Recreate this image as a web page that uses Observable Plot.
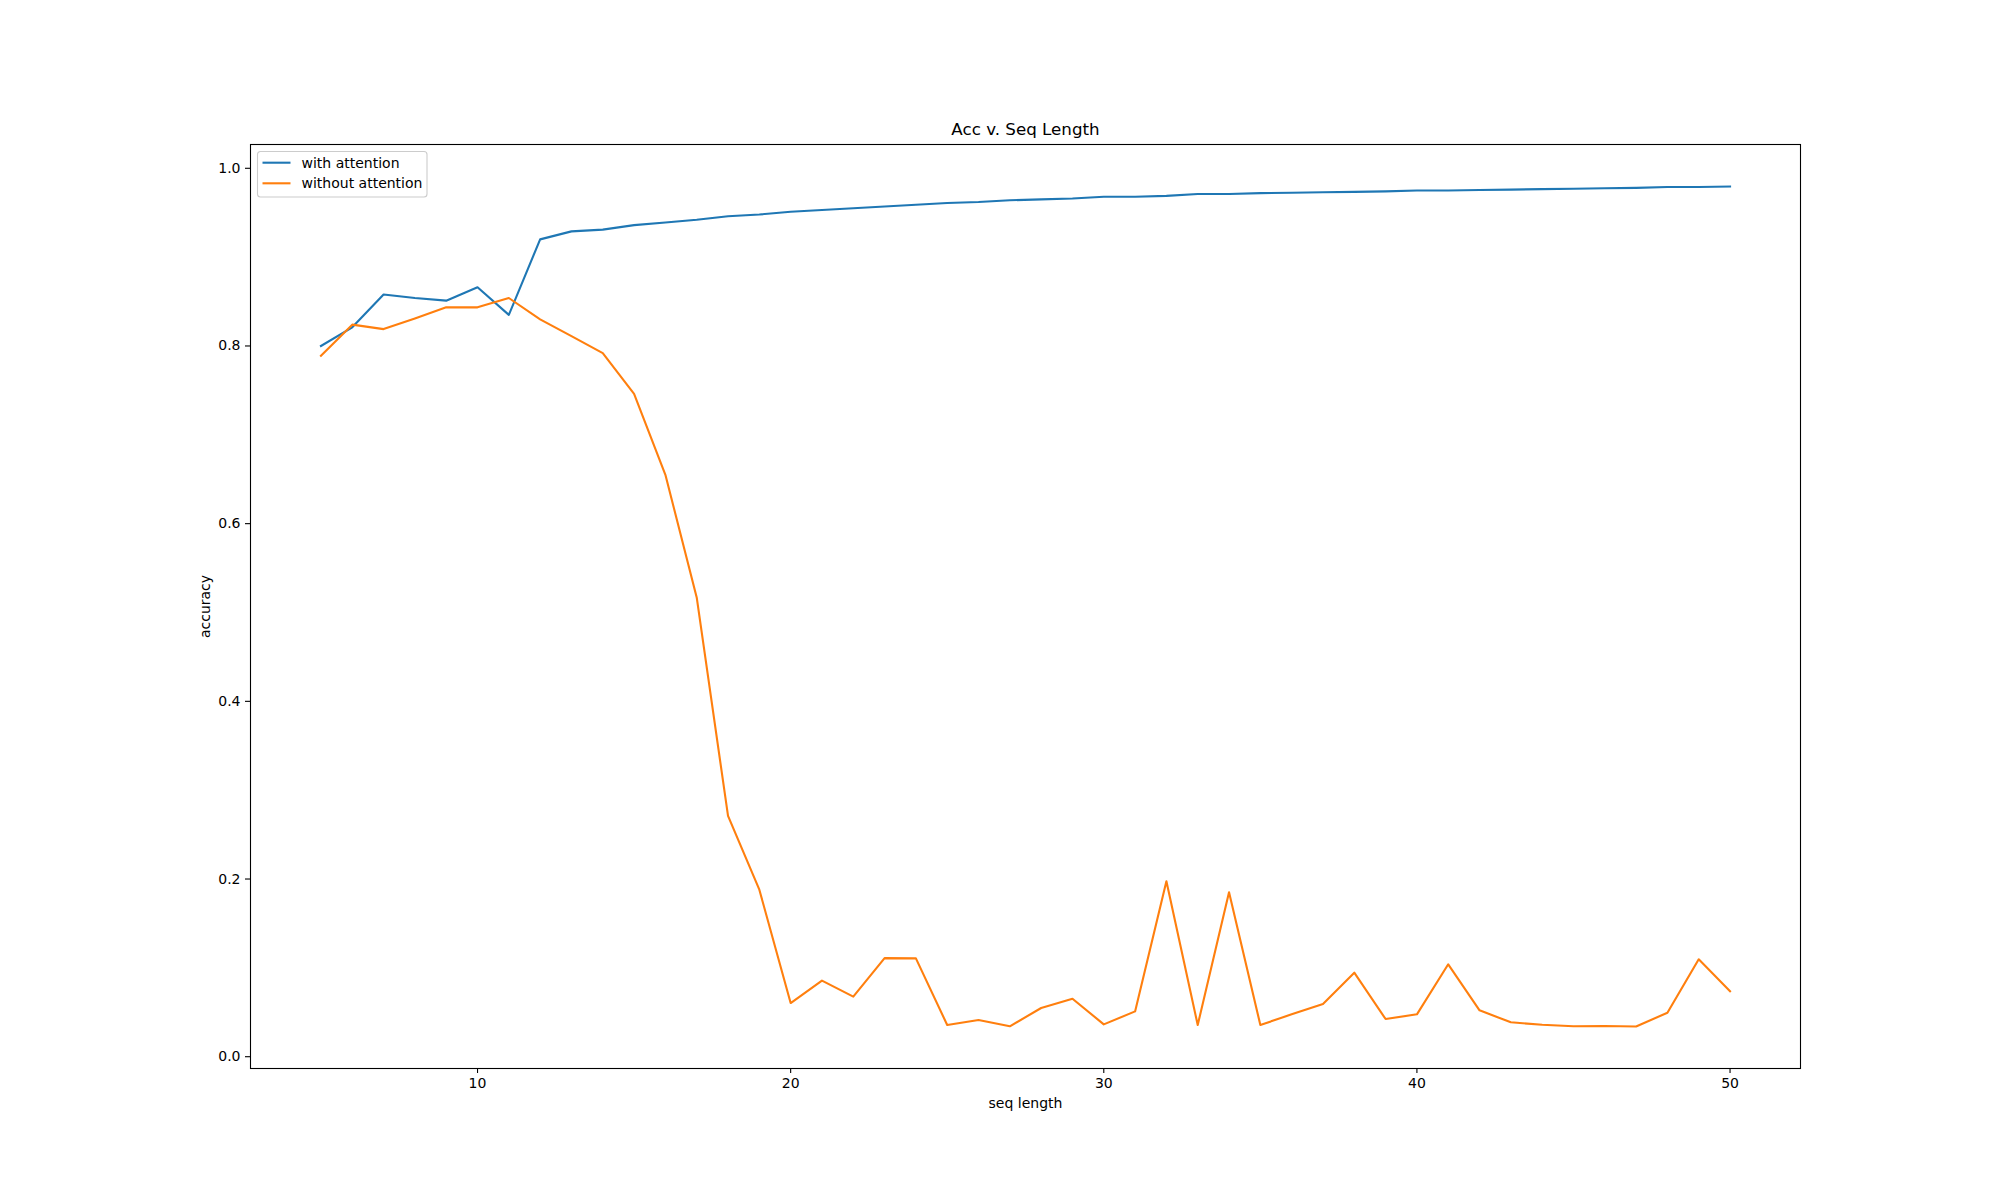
<!DOCTYPE html>
<html>
<head>
<meta charset="utf-8">
<script src="https://cdn.jsdelivr.net/npm/d3@7"></script>
<script src="https://cdn.jsdelivr.net/npm/@observablehq/plot@0.6"></script>
<style>
  html, body { margin: 0; padding: 0; background: white; }
  #chart { width: 2000px; height: 1200px; }
</style>
</head>
<body>
<div id="chart"></div>
<script>
const seqLength = [5,6,7,8,9,10,11,12,13,14,15,16,17,18,19,20,21,22,23,24,25,26,27,28,29,30,31,32,33,34,35,36,37,38,39,40,41,42,43,44,45,46,47,48,49,50];

const withAttention = [0.800,0.821,0.858,0.854,0.851,0.866,0.835,0.920,0.929,0.931,0.936,0.939,0.942,0.946,0.948,
  0.951,0.953,0.955,0.957,0.959,0.961,0.962,0.964,0.965,0.966,0.968,0.968,0.969,0.971,0.971,
  0.972,0.9725,0.973,0.9735,0.974,0.975,0.975,0.9755,0.976,0.9765,0.977,0.9775,0.978,0.979,0.979,0.9795];

const withoutAttention = [0.789,0.824,0.819,0.831,0.8435,0.8435,0.854,0.830,0.811,0.792,0.746,0.655,0.517,0.271,0.188,
  0.0604,0.0856,0.0676,0.111,0.1107,0.0357,0.0413,0.0342,0.0548,0.0653,0.0364,0.051,0.1975,0.0357,0.185,
  0.0357,0.0477,0.0593,0.0946,0.0424,0.0477,0.104,0.0522,0.0387,0.036,0.0342,0.0345,0.034,0.0495,0.1096,0.0736];

const seriesNames = ["with attention", "without attention"];
const seriesColors = ["#1f77b4", "#ff7f0e"];
const xTicks = [10, 20, 30, 40, 50];
const yTicks = [0.0, 0.2, 0.4, 0.6, 0.8, 1.0];
const titleText = "Acc v. Seq Length";
const xLabel = "seq length";
const yLabel = "accuracy";

const rows = [];
seqLength.forEach((s, i) => {
  rows.push({x: s, y: withAttention[i], series: seriesNames[0]});
  rows.push({x: s, y: withoutAttention[i], series: seriesNames[1]});
});

// matplotlib-like 5% data margins
const xExt = d3.extent(seqLength);
const yExt = d3.extent(rows, d => d.y);
const xPad = (xExt[1] - xExt[0]) * 0.05;
const yPad = (yExt[1] - yExt[0]) * 0.05;

const FONT = "DejaVu Sans, sans-serif";

const plot = Plot.plot({
  width: 2000,
  height: 1200,
  marginLeft: 250,
  marginRight: 200,
  marginTop: 144,
  marginBottom: 132,
  style: {fontFamily: FONT, fontSize: "14px", color: "black", background: "white", overflow: "visible"},
  x: {domain: [xExt[0] - xPad, xExt[1] + xPad]},
  y: {domain: [yExt[0] - yPad, yExt[1] + yPad]},
  color: {domain: seriesNames, range: seriesColors},
  marks: [
    Plot.line(rows, {x: "x", y: "y", z: "series", stroke: "series", strokeWidth: 2.1, strokeLinejoin: "round", strokeLinecap: "square"}),
    Plot.frame({stroke: "black", strokeWidth: 1.1}),
    Plot.axisX({ticks: xTicks, tickSize: 5, tickPadding: 5, tickFormat: d3.format("d"), label: null, fontSize: 14, strokeWidth: 1.1}),
    Plot.axisY({ticks: yTicks, tickSize: 5, tickPadding: 5, tickFormat: d3.format(".1f"), label: null, fontSize: 14, strokeWidth: 1.1}),
    Plot.text([titleText], {frameAnchor: "top", lineAnchor: "middle", textAnchor: "middle", dy: -15, fontSize: 16.7, fill: "black"}),
    Plot.text([xLabel], {frameAnchor: "bottom", lineAnchor: "middle", textAnchor: "middle", dy: 35, fontSize: 14, fill: "black"}),
    Plot.text([yLabel], {frameAnchor: "left", lineAnchor: "middle", textAnchor: "middle", dx: -45, rotate: -90, fontSize: 14, fill: "black"})
  ]
});

document.getElementById("chart").appendChild(plot);

// legend (matplotlib style, upper left inside axes)
const svg = d3.select(plot);
const lg = svg.append("g").attr("transform", "translate(257.5,151.5)");
lg.append("rect")
  .attr("width", 169.5).attr("height", 45.5)
  .attr("rx", 3).attr("ry", 3)
  .attr("fill", "white").attr("fill-opacity", 0.8)
  .attr("stroke", "#cccccc").attr("stroke-width", 1.1);
seriesNames.forEach((name, i) => {
  const y = 11.2 + i * 20.6;
  lg.append("line")
    .attr("x1", 5).attr("x2", 33).attr("y1", y).attr("y2", y)
    .attr("stroke", seriesColors[i]).attr("stroke-width", 2.1);
  lg.append("text")
    .attr("x", 44).attr("y", y).attr("dy", "0.35em")
    .attr("text-anchor", "start")
    .attr("font-family", FONT).attr("font-size", 14).attr("fill", "black")
    .text(name);
});
</script>
</body>
</html>
